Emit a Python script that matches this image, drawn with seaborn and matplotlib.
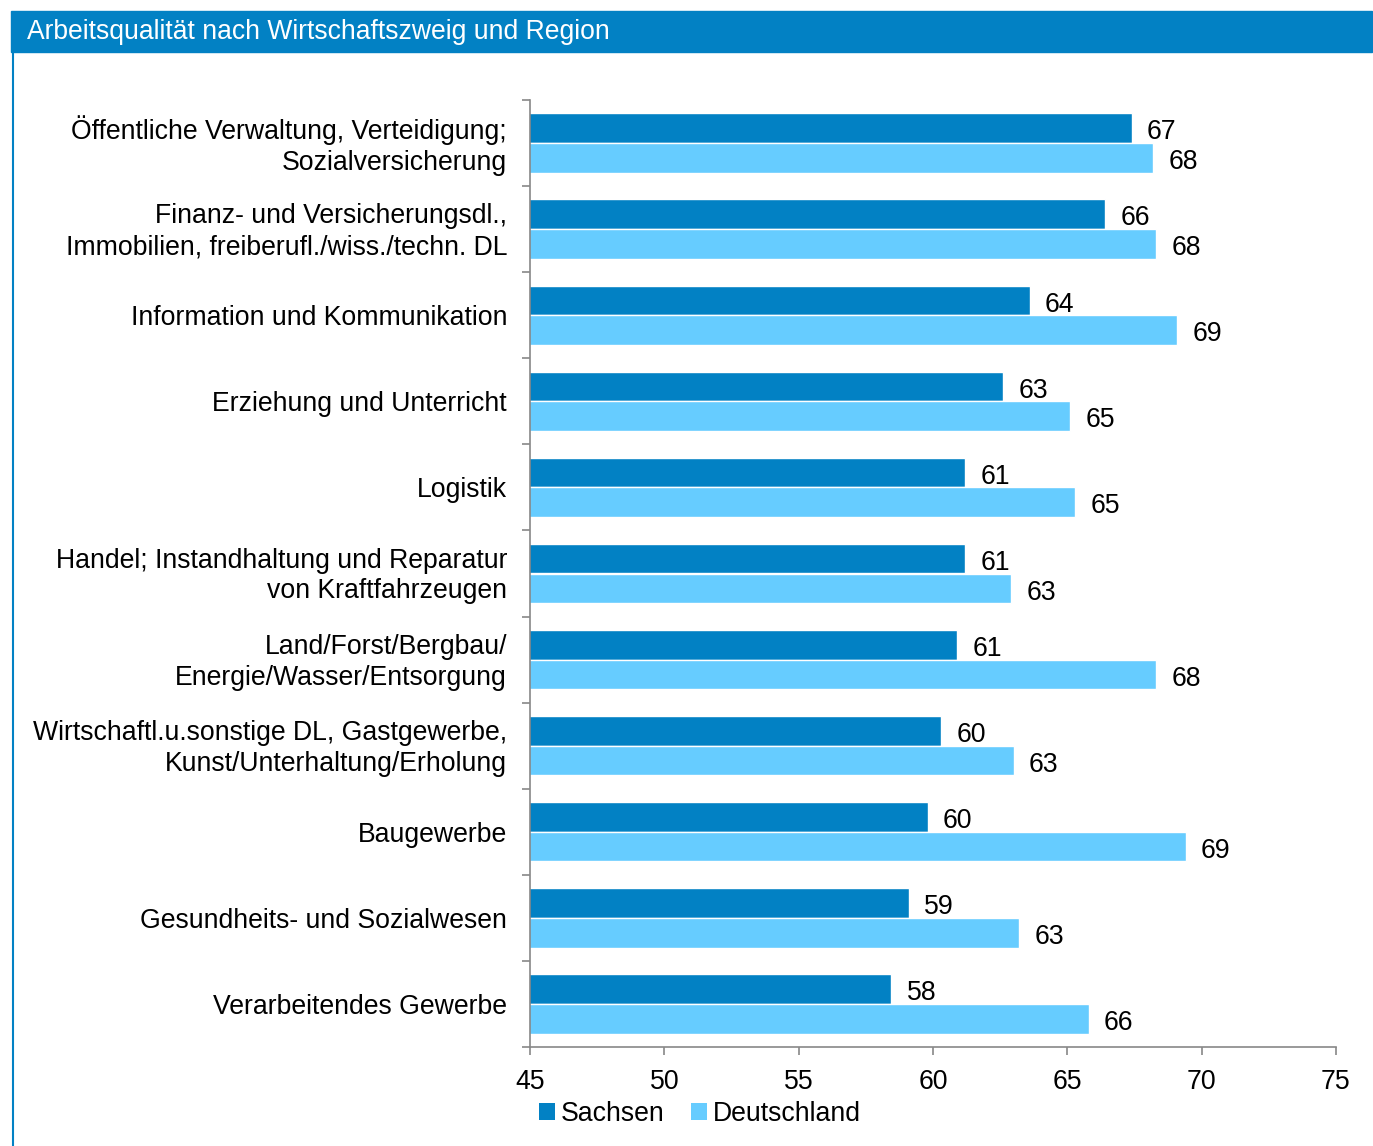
import matplotlib
matplotlib.use("Agg")
import matplotlib.pyplot as plt
from matplotlib.patches import Rectangle, Patch
from matplotlib.lines import Line2D
from matplotlib.transforms import ScaledTranslation
import seaborn as sns
import pandas as pd

# Branchen (von oben nach unten)
branchen = [
    "Öffentliche Verwaltung, Verteidigung;\nSozialversicherung",
    "Finanz- und Versicherungsdl.,\nImmobilien, freiberufl./wiss./techn. DL",
    "Information und Kommunikation",
    "Erziehung und Unterricht",
    "Logistik",
    "Handel; Instandhaltung und Reparatur\nvon Kraftfahrzeugen",
    "Land/Forst/Bergbau/\nEnergie/Wasser/Entsorgung",
    "Wirtschaftl.u.sonstige DL, Gastgewerbe,\nKunst/Unterhaltung/Erholung",
    "Baugewerbe",
    "Gesundheits- und Sozialwesen",
    "Verarbeitendes Gewerbe",
]
sachsen = [67.4, 66.4, 63.6, 62.6, 61.2, 61.2, 60.9, 60.3, 59.8, 59.1, 58.45]
deutschland = [68.2, 68.3, 69.1, 65.1, 65.3, 62.9, 68.3, 63.0, 69.4, 63.2, 65.8]
regionen = ["Sachsen", "Deutschland"]
x_ticks = [45, 50, 55, 60, 65, 70, 75]

farben = ["#0281C4", "#66CCFF"]
blau = "#0281C4"
grau = "#888888"
fs = 19.2

df = pd.DataFrame({
    "Branche": branchen * 2,
    "Wert": sachsen + deutschland,
    "Region": [regionen[0]] * len(branchen) + [regionen[1]] * len(branchen),
})

sns.set_theme(style="white")
plt.rcParams["font.family"] = ["Liberation Sans", "DejaVu Sans"]
plt.rcParams["text.color"] = "black"
plt.rcParams["xtick.color"] = grau
plt.rcParams["ytick.color"] = grau
plt.rcParams["xtick.labelcolor"] = "black"
plt.rcParams["ytick.labelcolor"] = "black"

W, H = 1373, 1146
fig = plt.figure(figsize=(W / 100, H / 100), dpi=100)
ax = fig.add_axes([530 / W, 1 - 1047 / H, (1336 - 530) / W, (1047 - 100) / H])

sns.barplot(data=df, y="Branche", x="Wert", hue="Region", order=branchen,
            hue_order=regionen, palette=farben, saturation=1, width=0.69,
            orient="h", ax=ax, legend=False)

for cont in ax.containers:
    for ann in ax.bar_label(cont, fmt="{:.0f}", padding=11, fontsize=fs, color="black"):
        ann.xyann = (11, -3)

ax.set_xlim(45, 75)
ax.set_ylim(len(branchen) - 0.5, -0.5)
ax.set_xticks(x_ticks)
ax.set_xticklabels([str(t) for t in x_ticks], fontsize=fs)
ax.set_yticks(range(len(branchen)))
ax.set_yticklabels(branchen, fontsize=fs, ha="right", linespacing=1.25)
ax.set_yticks([i - 0.5 for i in range(len(branchen) + 1)], minor=True)
ax.tick_params(axis="y", which="major", left=True, length=0, pad=16.5)
ax.tick_params(axis="y", which="minor", left=True, length=6, color=grau, width=1.2, direction="out")
ax.tick_params(axis="x", which="major", bottom=True, length=6, color=grau, width=1.2, direction="out", pad=10)
ax.set_xlabel("")
ax.set_ylabel("")
for side in ["top", "right"]:
    ax.spines[side].set_visible(False)
for side in ["left", "bottom"]:
    ax.spines[side].set_color(grau)
    ax.spines[side].set_linewidth(1.2)

# zweizeilige Beschriftungen leicht anheben
for lbl in ax.get_yticklabels():
    if "\n" in lbl.get_text():
        lbl.set_transform(lbl.get_transform() + ScaledTranslation(0, 3 / 100, fig.dpi_scale_trans))

# Titelbalken und linker Rahmen
fig.patches.append(Rectangle((11 / W, 1 - 52 / H), (1372 - 11) / W, 41 / H,
                             transform=fig.transFigure, color=blau, zorder=0))
fig.lines.append(Line2D([12.5 / W, 12.5 / W], [0, 1 - 52 / H],
                        transform=fig.transFigure, color=blau, linewidth=1.5))
fig.text(27 / W, 1 - 32 / H, "Arbeitsqualität nach Wirtschaftszweig und Region",
         color="white", fontsize=19.1, va="center", ha="left")

handles = [Patch(facecolor=c, edgecolor="none", label=r) for c, r in zip(farben, regionen)]
fig.legend(handles=handles, loc="center", bbox_to_anchor=(700 / W, 1 - 1114 / H),
           ncol=2, frameon=False, fontsize=fs, handlelength=0.6, handleheight=0.6,
           handletextpad=0.2, columnspacing=1.0)

fig.savefig("out.png", dpi=100)
